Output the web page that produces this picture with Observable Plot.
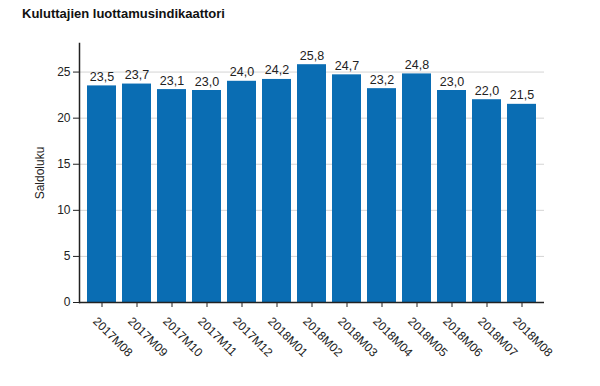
<!DOCTYPE html>
<html>
<head>
<meta charset="utf-8">
<script src="https://cdn.jsdelivr.net/npm/d3@7"></script>
<script src="https://cdn.jsdelivr.net/npm/@observablehq/plot@0.6"></script>
<style>
  body { margin: 0; background: #fff; font-family: "Liberation Sans", Arial, sans-serif; }
  #title { height: 30px; box-sizing: border-box; padding: 6px 0 0 22px; font-weight: bold; font-size: 13px; color: #111; }
  svg { display: block; }
</style>
</head>
<body>
<div id="title">Kuluttajien luottamusindikaattori</div>
<div id="chart"></div>
<script>
const categories = ["2017M08","2017M09","2017M10","2017M11","2017M12","2018M01","2018M02","2018M03","2018M04","2018M05","2018M06","2018M07","2018M08"];
const values = [23.5, 23.7, 23.1, 23.0, 24.0, 24.2, 25.8, 24.7, 23.2, 24.8, 23.0, 22.0, 21.5];
const yTicks = [0, 5, 10, 15, 20, 25];
const yLabel = "Saldoluku";

const data = categories.map((c, i) => ({c, v: values[i]}));

const chart = Plot.plot({
  width: 600,
  height: 356,
  marginTop: 13,
  marginBottom: 84,
  marginLeft: 79,
  marginRight: 56,
  style: {fontFamily: "'Liberation Sans', Arial, sans-serif", fontSize: "12px", color: "#222", background: "#fff"},
  x: {domain: categories, padding: 0.18, label: null},
  y: {domain: [0, 28.1], label: null},
  marks: [
    Plot.gridY(yTicks.filter(d => d > 0), {stroke: "#d4d4d4", strokeOpacity: 1}),
    Plot.barY(data, {x: "c", y: "v", fill: "#0a6db3"}),
    Plot.text(data, {x: "c", y: "v", text: d => d.v.toFixed(1).replace(".", ","), dy: -9, fontSize: 12.5, fill: "#222"}),
    Plot.axisY({ticks: yTicks, tickSize: 6, tickPadding: 3, fontSize: 12, label: yLabel, labelAnchor: "center", labelArrow: "none", labelOffset: 44}),
    Plot.axisX({tickSize: 5, tickFormat: () => "", label: null}),
    Plot.axisX({tickSize: 5, tickRotate: 45, fontSize: 12, label: null, dx: -7, dy: 5, strokeOpacity: 0}),
    Plot.ruleY([0], {stroke: "#222", strokeWidth: 1.5}),
    Plot.frame({anchor: "left", stroke: "#222", strokeWidth: 1.5})
  ]
});
document.getElementById("chart").appendChild(chart);
</script>
</body>
</html>
